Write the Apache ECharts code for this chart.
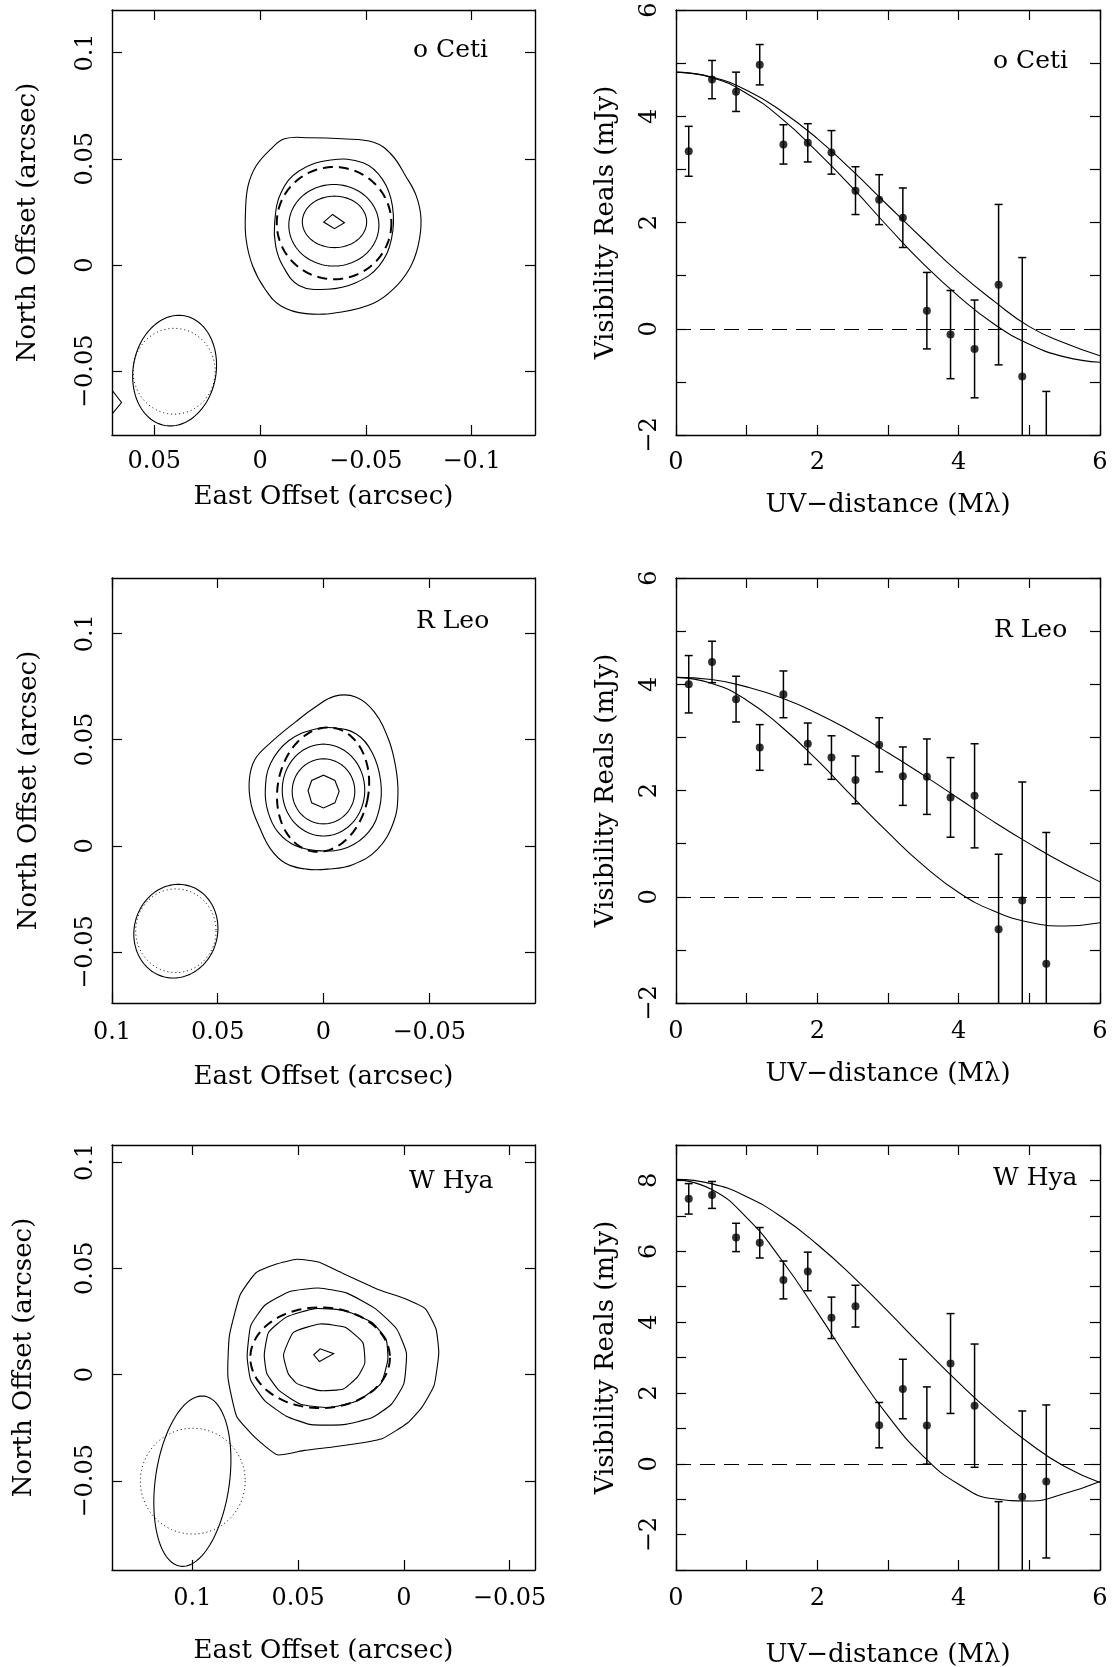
<!DOCTYPE html>
<html>
<head>
<meta charset="utf-8">
<script src="https://cdn.jsdelivr.net/npm/echarts@6/dist/echarts.min.js"></script>
<style>
  html, body { margin: 0; padding: 0; background: #fff; }
  #main { width: 1113px; height: 1667px; }
</style>
</head>
<body>
<div id="main"></div>
<script>
// ---- visibility panels: binned uv-distance (Mλ) ----
var uvDist = [0.18, 0.51, 0.85, 1.185, 1.52, 1.865, 2.2, 2.54, 2.875, 3.21, 3.55, 3.885, 4.225, 4.565, 4.9, 5.24];

var cetiVis = [3.34, 4.69, 4.46, 4.97, 3.47, 3.50, 3.32, 2.60, 2.43, 2.09, 0.34, -0.11, -0.38, 0.83, -0.90, -3.5];
var cetiErr = [0.47, 0.36, 0.37, 0.38, 0.37, 0.36, 0.41, 0.45, 0.47, 0.56, 0.72, 0.83, 0.92, 1.51, 2.24, 2.32];
var rleoVis = [4.00, 4.42, 3.72, 2.81, 3.81, 2.88, 2.62, 2.20, 2.86, 2.27, 2.26, 1.87, 1.90, -0.61, -0.07, -1.26];
var rleoErr = [0.54, 0.39, 0.43, 0.43, 0.44, 0.39, 0.41, 0.45, 0.51, 0.55, 0.71, 0.75, 0.98, 1.41, 2.23, 2.47];
var whyaVis = [7.48, 7.59, 6.39, 6.24, 5.19, 5.43, 4.12, 4.45, 1.09, 2.11, 1.08, 2.83, 1.64, -3.3, -0.93, -0.50];
var whyaErr = [0.43, 0.38, 0.40, 0.43, 0.535, 0.545, 0.585, 0.59, 0.64, 0.84, 1.09, 1.41, 1.74, 2.23, 2.42, 2.16];

var modelU = [0, 0.5, 1, 1.5, 2, 2.5, 3, 3.5, 4, 4.5, 5, 5.5, 6];
var cetiModelA = [4.83, 4.74, 4.49, 4.09, 3.58, 2.97, 2.32, 1.68, 1.06, 0.52, 0.04, -0.27, -0.51];
var cetiModelB = [4.83, 4.73, 4.43, 3.95, 3.33, 2.65, 1.92, 1.22, 0.61, 0.09, -0.29, -0.53, -0.63];
var rleoModelA = [4.13, 4.09, 3.95, 3.74, 3.45, 3.10, 2.71, 2.29, 1.85, 1.41, 1.00, 0.62, 0.28];
var rleoModelB = [4.13, 4.02, 3.70, 3.19, 2.57, 1.88, 1.21, 0.59, 0.08, -0.27, -0.48, -0.55, -0.49];
var whyaModelA = [8.03, 7.91, 7.54, 6.96, 6.19, 5.29, 4.30, 3.28, 2.29, 1.38, 0.58, -0.08, -0.53];
var whyaModelB = [8.03, 7.75, 6.95, 5.74, 4.28, 2.75, 1.35, 0.21, -0.58, -0.99, -1.05, -0.84, -0.50];

var uvTicks = [0, 1, 2, 3, 4, 5, 6];
var uvLabels = [0, 2, 4, 6];
var visTicks = [-2, -1, 0, 1, 2, 3, 4, 5, 6];
var visLabels = [-2, 0, 2, 4, 6];
var whyaVisTicks = [-3, -2, -1, 0, 1, 2, 3, 4, 5, 6, 7, 8, 9];
var whyaVisLabels = [-2, 0, 2, 4, 6, 8];

// ---- maps: contours in arcsec (east, north) ----
var cetiContours = [
  [[0.0069,0.0246],[0.0057,0.0371],[0.0019,0.0466],[-0.0049,0.0544],[-0.0116,0.0594],[-0.0234,0.0599],[-0.0386,0.0594],[-0.0537,0.0578],[-0.0621,0.0520],[-0.0689,0.0418],[-0.0739,0.0324],[-0.0761,0.0215],[-0.0747,0.0089],[-0.0705,-0.0020],[-0.0630,-0.0114],[-0.0537,-0.0180],[-0.0386,-0.0221],[-0.0217,-0.0229],[-0.0099,-0.0193],[-0.0024,-0.0114],[0.0035,-0.0005],[0.0066,0.0121]],
  [[-0.0069,0.0199],[-0.0099,0.0340],[-0.0184,0.0442],[-0.0335,0.0494],[-0.0487,0.0481],[-0.0579,0.0403],[-0.0626,0.0277],[-0.0621,0.0121],[-0.0562,-0.0005],[-0.0453,-0.0083],[-0.0318,-0.0114],[-0.0184,-0.0096],[-0.0108,-0.0005],[-0.0074,0.0089]]
];
var cetiRings = [[-0.0349, 0.0187, 0.0213, 0.0192, 0], [-0.0352, 0.0203, 0.0152, 0.0121, 0]];
var cetiPeak = [[[-0.0301,0.0202],[-0.0343,0.0238],[-0.0399,0.0199],[-0.0352,0.0171]]];
var cetiEdge = [[[0.0703,-0.0585],[0.0655,-0.0647],[0.0703,-0.0705]]];
var cetiDisk = [[-0.0350, 0.0197, 0.0271, 0.0264, 0]];
var cetiBeam = [[0.0404, -0.0497, 0.0196, 0.0262, -10]];
var cetiDotted = [[0.0406, -0.0500, 0.0194, 0.0202, 0]];

var rleoContours = [
  [[0.0351,0.0307],[0.0325,0.0405],[0.0250,0.0485],[0.0132,0.0583],[0.0047,0.0647],[-0.0054,0.0704],[-0.0155,0.0699],[-0.0239,0.0631],[-0.0307,0.0502],[-0.0341,0.0372],[-0.0352,0.0243],[-0.0332,0.0113],[-0.0256,-0.0016],[-0.0138,-0.0089],[-0.0020,-0.0110],[0.0081,-0.0110],[0.0182,-0.0081],[0.0250,-0.0016],[0.0300,0.0081],[0.0342,0.0194]],
  [[0.0275,0.0267],[0.0250,0.0388],[0.0165,0.0494],[0.0047,0.0547],[-0.0046,0.0555],[-0.0155,0.0526],[-0.0231,0.0437],[-0.0270,0.0307],[-0.0265,0.0178],[-0.0214,0.0065],[-0.0113,-0.0008],[0.0013,-0.0024],[0.0132,0.0000],[0.0216,0.0065],[0.0263,0.0162]]
];
var rleoRings = [[0.0, 0.0262, 0.0195, 0.0216, 0], [0.0, 0.0256, 0.0148, 0.0153, 0]];
var rleoPeak = [[[0.0073,0.0259],[0.0056,0.0307],[0.0,0.0332],[-0.0054,0.0307],[-0.0074,0.0256],[-0.0054,0.0202],[0.0,0.0178],[0.0056,0.0202]]];
var rleoDisk = [[0.0002, 0.0264, 0.0215, 0.0295, -10]];
var rleoBeam = [[0.0698, -0.0402, 0.0197, 0.0222, -15]];
var rleoDotted = [[0.0698, -0.0400, 0.0190, 0.0197, 0]];

var whyaContours = [
  [[0.0598,-0.0378],[0.0699,-0.0301],[0.0791,-0.0196],[0.0832,-0.0011],[0.0825,0.0182],[0.0774,0.0375],[0.0699,0.0479],[0.0606,0.0519],[0.0505,0.0542],[0.0404,0.0529],[0.0295,0.0479],[0.0118,0.0399],[0.0,0.0359],[-0.0101,0.0310],[-0.0152,0.0214],[-0.0165,0.0101],[-0.0143,-0.0051],[-0.0084,-0.0156],[-0.0017,-0.0228],[0.0101,-0.0301],[0.0219,-0.0325],[0.0337,-0.0341],[0.0471,-0.0357]],
  [[0.0741,0.0085],[0.0724,0.0230],[0.0657,0.0326],[0.0539,0.0391],[0.0404,0.0407],[0.0269,0.0383],[0.0135,0.0310],[0.0034,0.0214],[-0.0012,0.0101],[0.0,-0.0043],[0.0059,-0.0140],[0.0152,-0.0204],[0.0286,-0.0236],[0.0438,-0.0236],[0.0556,-0.0196],[0.0657,-0.0124],[0.0724,-0.0027]],
  [[0.0660,0.0093],[0.0640,0.0198],[0.0556,0.0270],[0.0421,0.0310],[0.0286,0.0302],[0.0152,0.0246],[0.0084,0.0166],[0.0076,0.0069],[0.0109,-0.0043],[0.0219,-0.0124],[0.0354,-0.0156],[0.0488,-0.0140],[0.0589,-0.0076],[0.0648,0.0005]],
  [[0.0569,0.0093],[0.0522,0.0198],[0.0396,0.0238],[0.0278,0.0222],[0.0194,0.0150],[0.0185,0.0053],[0.0219,-0.0011],[0.0286,-0.0068],[0.0396,-0.0076],[0.0505,-0.0043],[0.0547,0.0005]]
];
var whyaPeak = [[[0.0426,0.0093],[0.0396,0.0121],[0.0332,0.0098],[0.0399,0.0061]]];
var whyaDisk = [[0.0396, 0.0079, 0.0330, 0.0237, 0]];
var whyaBeam = [[0.1000, -0.0502, 0.0175, 0.0404, -8]];
var whyaDotted = [[0.0998, -0.0502, 0.0248, 0.0249, 0]];

var mapTicks = [-0.05, 0, 0.05, 0.1];

(function () {
  var myChart = echarts.init(document.getElementById('main'));
  var FONT = 'DejaVu Serif';

  function fmt(v) {
    if (v === 0) return '0';
    return (v < 0 ? '\u2212' : '') + String(Math.abs(v));
  }

  // 每个面板: 网格位置
  var grids = [
    { left: 112, top: 10, width: 423, height: 425 },
    { left: 676, top: 10, width: 424, height: 425 },
    { left: 112, top: 578, width: 423, height: 425 },
    { left: 676, top: 578, width: 424, height: 425 },
    { left: 112, top: 1145, width: 423, height: 425 },
    { left: 676, top: 1145, width: 424, height: 425 }
  ];
  grids.forEach(function (g) { g.outerBoundsMode = 'none'; g.containLabel = false; });

  var lineSt = { color: '#000', width: 1.4 };
  var xAxes = [], yAxes = [];

  // 4 axes per panel: bottom/left labelled, top/right ticks only
  function addAxes(g, p) {
    var tick = { show: true, inside: true, length: 10, lineStyle: { color: '#000', width: 1.2 } };
    xAxes.push({
      gridIndex: g, type: 'value', position: 'bottom', min: p.xmin, max: p.xmax, inverse: !!p.xinv,
      axisLine: { show: true, onZero: false, lineStyle: lineSt },
      axisTick: Object.assign({ customValues: p.xticks }, tick),
      axisLabel: { customValues: p.xlabels, formatter: fmt, margin: p.xmargin, fontFamily: FONT, fontSize: 24, color: '#000' },
      splitLine: { show: false },
      name: p.xname, nameLocation: 'middle', nameGap: p.xgap, nameMoveOverlap: false,
      nameTextStyle: { fontFamily: FONT, fontSize: 26, color: '#000' }
    });
    xAxes.push({
      gridIndex: g, type: 'value', position: 'top', min: p.xmin, max: p.xmax, inverse: !!p.xinv,
      axisLine: { show: true, onZero: false, lineStyle: lineSt },
      axisTick: Object.assign({ customValues: p.xticks }, tick),
      axisLabel: { show: false }, splitLine: { show: false }
    });
    yAxes.push({
      gridIndex: g, type: 'value', position: 'left', min: p.ymin, max: p.ymax,
      axisLine: { show: true, onZero: false, lineStyle: lineSt },
      axisTick: Object.assign({ customValues: p.yticks }, tick),
      axisLabel: { customValues: p.ylabels, formatter: fmt, rotate: 90, margin: 14, fontFamily: FONT, fontSize: 24, color: '#000' },
      splitLine: { show: false },
      name: p.yname, nameLocation: 'middle', nameGap: p.ygap, nameRotate: 90, nameMoveOverlap: false,
      nameTextStyle: { fontFamily: FONT, fontSize: 26, color: '#000' }
    });
    yAxes.push({
      gridIndex: g, type: 'value', position: 'right', min: p.ymin, max: p.ymax,
      axisLine: { show: true, onZero: false, lineStyle: lineSt },
      axisTick: Object.assign({ customValues: p.yticks }, tick),
      axisLabel: { show: false }, splitLine: { show: false }
    });
  }

  var mapX = 'East Offset (arcsec)', mapY = 'North Offset (arcsec)';
  var visX = 'UV\u2212distance (M\u03bb)', visY = 'Visibility Reals (mJy)';

  addAxes(0, { xmin: -0.13, xmax: 0.07, xinv: true, ymin: -0.08, ymax: 0.12,
    xticks: [0.05, 0, -0.05, -0.1], xlabels: [0.05, 0, -0.05, -0.1], yticks: mapTicks, ylabels: mapTicks,
    xname: mapX, yname: mapY, xgap: 49, ygap: 71, xmargin: 15 });
  addAxes(1, { xmin: 0, xmax: 6, ymin: -2, ymax: 6, xticks: uvTicks, xlabels: uvLabels, yticks: visTicks, ylabels: visLabels,
    xname: visX, yname: visY, xgap: 57, ygap: 57, xmargin: 16 });
  addAxes(2, { xmin: -0.1, xmax: 0.1, xinv: true, ymin: -0.074, ymax: 0.126,
    xticks: [0.1, 0.05, 0, -0.05], xlabels: [0.1, 0.05, 0, -0.05], yticks: mapTicks, ylabels: mapTicks,
    xname: mapX, yname: mapY, xgap: 61, ygap: 70, xmargin: 18 });
  addAxes(3, { xmin: 0, xmax: 6, ymin: -2, ymax: 6, xticks: uvTicks, xlabels: uvLabels, yticks: visTicks, ylabels: visLabels,
    xname: visX, yname: visY, xgap: 58, ygap: 57, xmargin: 17 });
  addAxes(4, { xmin: -0.062, xmax: 0.138, xinv: true, ymin: -0.092, ymax: 0.108,
    xticks: [0.1, 0.05, 0, -0.05], xlabels: [0.1, 0.05, 0, -0.05], yticks: mapTicks, ylabels: mapTicks,
    xname: mapX, yname: mapY, xgap: 68, ygap: 75, xmargin: 17 });
  addAxes(5, { xmin: 0, xmax: 6, ymin: -3, ymax: 9, xticks: uvTicks, xlabels: uvLabels, yticks: whyaVisTicks, ylabels: whyaVisLabels,
    xname: visX, yname: visY, xgap: 72, ygap: 57, xmargin: 17 });

  var series = [];

  // ---- visibility panel series ----
  function visSeries(g, vals, errs, modelA, modelB) {
    var ax = { xAxisIndex: 2 * g, yAxisIndex: 2 * g };
    series.push(Object.assign({
      type: 'scatter', clip: true, symbol: 'circle', symbolSize: 8, silent: true,
      itemStyle: { color: '#000' },
      data: uvDist.map(function (u, i) { return [u, vals[i]]; }),
      markLine: {
        silent: true, symbol: 'none', label: { show: false },
        lineStyle: { color: '#000', width: 1, type: [15, 9] },
        data: [{ yAxis: 0 }]
      }
    }, ax));
    series.push(Object.assign({
      type: 'custom', clip: true, silent: true,
      data: uvDist.map(function (u, i) { return [u, vals[i] - errs[i], vals[i] + errs[i]]; }),
      encode: { x: 0, y: [1, 2] },
      renderItem: function (params, api) {
        var lo = api.coord([api.value(0), api.value(1)]);
        var hi = api.coord([api.value(0), api.value(2)]);
        var w = 4, st = { stroke: '#000', lineWidth: 1.5 };
        return {
          type: 'group', children: [
            { type: 'line', shape: { x1: lo[0], y1: lo[1], x2: hi[0], y2: hi[1] }, style: st },
            { type: 'line', shape: { x1: lo[0] - w, y1: lo[1], x2: lo[0] + w, y2: lo[1] }, style: st },
            { type: 'line', shape: { x1: hi[0] - w, y1: hi[1], x2: hi[0] + w, y2: hi[1] }, style: st }
          ]
        };
      }
    }, ax));
    [modelA, modelB].forEach(function (m) {
      series.push(Object.assign({
        type: 'line', smooth: true, showSymbol: false, silent: true, clip: true,
        lineStyle: { color: '#000', width: 1.1 },
        data: modelU.map(function (u, i) { return [u, m[i]]; })
      }, ax));
    });
  }
  visSeries(1, cetiVis, cetiErr, cetiModelA, cetiModelB);
  visSeries(3, rleoVis, rleoErr, rleoModelA, rleoModelB);
  visSeries(5, whyaVis, whyaErr, whyaModelA, whyaModelB);

  // ---- map panel series ----
  function polySeries(g, lines, closed, smooth) {
    series.push({
      type: 'custom', xAxisIndex: 2 * g, yAxisIndex: 2 * g, clip: true, silent: true,
      data: lines.map(function (ln, i) { return [ln[0][0], ln[0][1], i]; }),
      encode: { x: 0, y: 1 },
      renderItem: function (params, api) {
        var pts = lines[params.dataIndex].map(function (p) { return api.coord(p); });
        return {
          type: closed ? 'polygon' : 'polyline',
          shape: { points: pts, smooth: smooth },
          style: { fill: 'none', stroke: '#000', lineWidth: 1.1 }
        };
      }
    });
  }
  // ellipse items: [cx, cy, rx, ry, pa(deg, east of north)]
  function ellipseSeries(g, items, width, dash) {
    series.push({
      type: 'custom', xAxisIndex: 2 * g, yAxisIndex: 2 * g, clip: true, silent: true,
      data: items,
      encode: { x: 0, y: 1 },
      renderItem: function (params, api) {
        var c = api.coord([api.value(0), api.value(1)]);
        var s = api.size([api.value(2) * 2, api.value(3) * 2]);
        var a = Math.abs(s[0]) / 2, b = Math.abs(s[1]) / 2;
        var phi = -api.value(4) * Math.PI / 180;
        var pts = [];
        for (var k = 0; k < 120; k++) {
          var t = k / 120 * 2 * Math.PI;
          var ex = a * Math.cos(t), ey = b * Math.sin(t);
          pts.push([c[0] + ex * Math.cos(phi) - ey * Math.sin(phi), c[1] + ex * Math.sin(phi) + ey * Math.cos(phi)]);
        }
        return {
          type: 'polygon', shape: { points: pts },
          style: { fill: 'none', stroke: '#000', lineWidth: width, lineDash: dash || null }
        };
      }
    });
  }

  polySeries(0, cetiContours, true, 0.4);
  polySeries(0, cetiPeak, true, 0);
  polySeries(0, cetiEdge, false, 0);
  ellipseSeries(0, cetiRings, 1.1);
  ellipseSeries(0, cetiDisk, 2, [10, 6]);
  ellipseSeries(0, cetiBeam, 1.1);
  ellipseSeries(0, cetiDotted, 1, [1, 3]);

  polySeries(2, rleoContours, true, 0.4);
  polySeries(2, rleoPeak, true, 0);
  ellipseSeries(2, rleoRings, 1.1);
  ellipseSeries(2, rleoDisk, 2, [10, 6]);
  ellipseSeries(2, rleoBeam, 1.1);
  ellipseSeries(2, rleoDotted, 1, [1, 3]);

  polySeries(4, whyaContours, true, 0.15);
  polySeries(4, whyaPeak, true, 0);
  ellipseSeries(4, whyaDisk, 2, [10, 6]);
  ellipseSeries(4, whyaBeam, 1.1);
  ellipseSeries(4, whyaDotted, 1, [1, 3]);

  var nameStyle = { fontFamily: FONT, fontSize: 25, fontWeight: 'normal', color: '#000' };
  var titles = [
    { text: 'o Ceti', left: 413, top: 38 },
    { text: 'o Ceti', left: 993, top: 49 },
    { text: 'R Leo', left: 416, top: 609 },
    { text: 'R Leo', left: 994, top: 618 },
    { text: 'W Hya', left: 409, top: 1169 },
    { text: 'W Hya', left: 993, top: 1166 }
  ].map(function (t) { t.padding = 0; t.textStyle = nameStyle; return t; });

  var option = {
    backgroundColor: '#fff',
    animation: false,
    title: titles,
    grid: grids,
    xAxis: xAxes,
    yAxis: yAxes,
    series: series
  };
  myChart.setOption(option);
  window.addEventListener('resize', function () { myChart.resize(); });
})();
</script>
</body>
</html>
